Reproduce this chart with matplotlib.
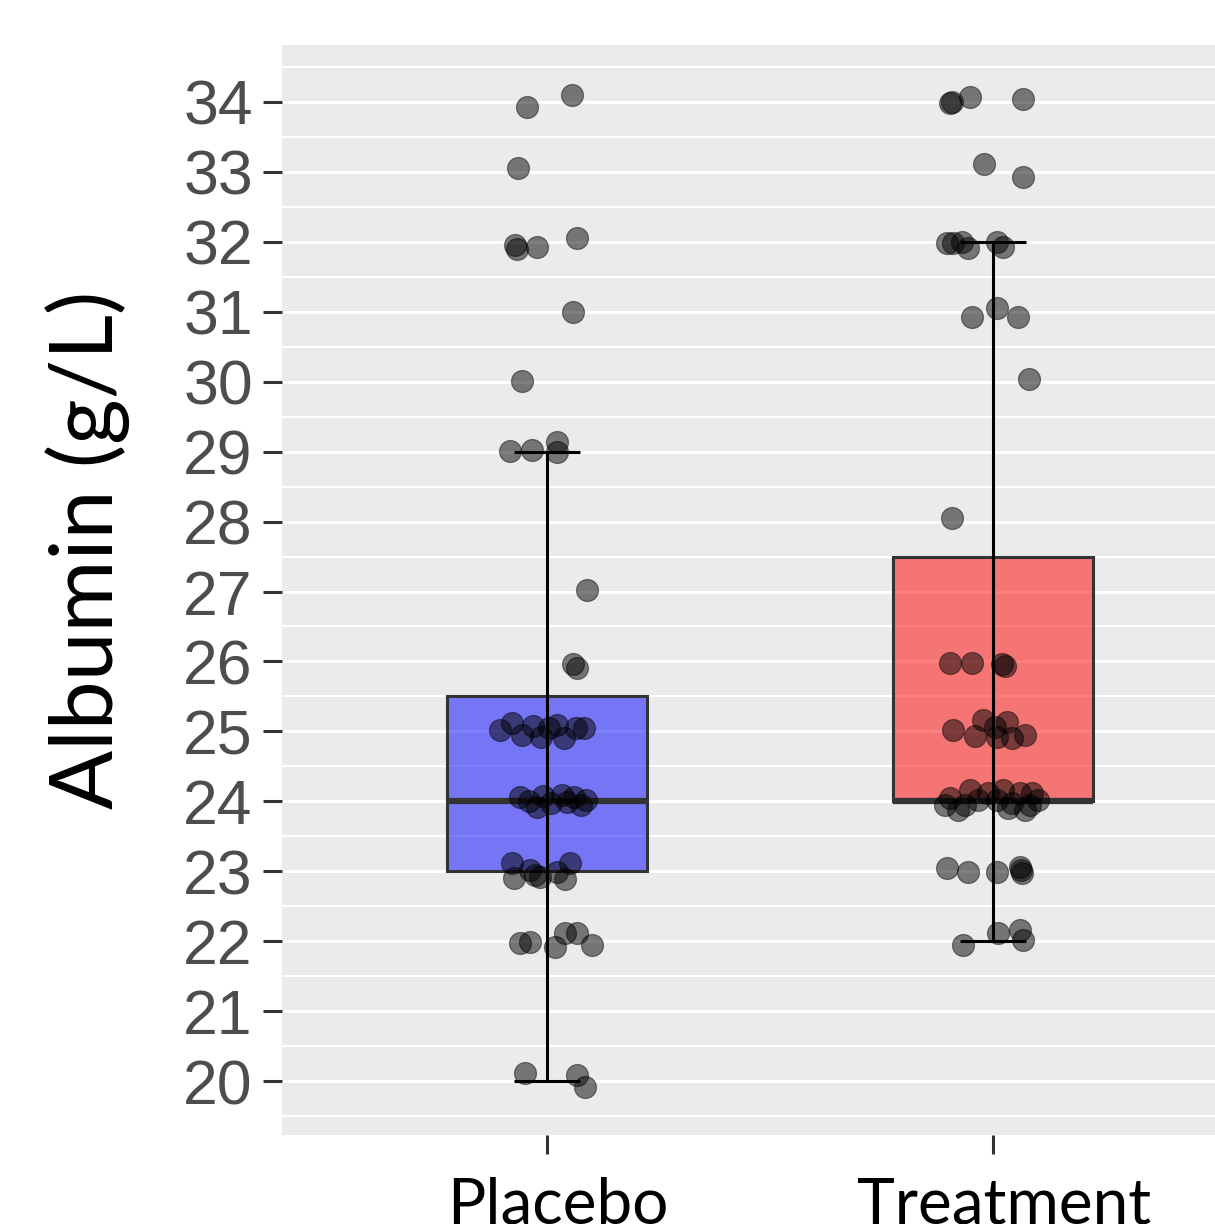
#!/usr/bin/env python3

import matplotlib
matplotlib.use("Agg")
import matplotlib.pyplot as plt
from matplotlib.ticker import MultipleLocator
from matplotlib.transforms import ScaledTranslation

# -----------------------------------------------------------------------------
# Albumin by group: boxplot + jittered points (ggplot-style)
# -----------------------------------------------------------------------------

GROUPS = ["Placebo", "Treatment"]
BOX_COLORS = ["blue", "red"]

# box statistics: lower whisker, Q1, median, Q3, upper whisker
WHISLO = [20, 22]
Q1 = [23, 24]
MEDIAN = [24, 24]
Q3 = [25.5, 27.5]
WHISHI = [29, 32]

# jittered points (x offset from group centre, y value)
PLACEBO_DX = [
    -0.045, 0.056, -0.065, -0.072, -0.067, -0.022, 0.067, 0.058, -0.056,
    -0.083, -0.034, 0.022, 0.022, 0.090, 0.058, 0.067,
    -0.105, -0.078, -0.056, -0.031, -0.013, 0.004, 0.022, 0.038, 0.065, 0.083,
    -0.061, -0.040, -0.022, -0.009, 0.009, 0.034, 0.045, 0.061, 0.076, 0.087,
    -0.078, -0.074, -0.038, -0.027, -0.016, 0.022, 0.040, 0.052,
    -0.061, -0.038, 0.018, 0.040, 0.067, 0.101,
    -0.049, 0.067, 0.085,
]
PLACEBO_Y = [
    33.93, 34.10, 33.06, 31.96, 31.90, 31.93, 32.06, 31.00, 30.01,
    29.01, 29.02, 29.14, 28.99, 27.02, 25.96, 25.90,
    25.02, 25.12, 24.95, 25.08, 24.92, 25.05, 25.09, 24.91, 25.05, 25.05,
    24.06, 24.00, 23.92, 24.08, 23.98, 24.09, 23.99, 24.06, 23.95, 24.02,
    23.12, 22.90, 23.02, 22.95, 22.92, 22.99, 22.89, 23.12,
    21.97, 21.99, 21.92, 22.12, 22.12, 21.94,
    20.11, 20.09, 19.91,
]

TREATMENT_DX = [
    -0.092, -0.096, -0.052, 0.067, -0.020, 0.067,
    -0.103, -0.090, -0.070, -0.056, 0.009, 0.022,
    -0.047, 0.009, 0.056, 0.081, -0.092,
    -0.096, -0.047, 0.020, 0.027,
    -0.090, -0.040, -0.022, 0.004, 0.009, 0.031, 0.043, 0.072,
    -0.108, -0.096, -0.078, -0.063, -0.052, -0.034, -0.011, 0.009,
    0.022, 0.034, 0.043, 0.061, 0.072, 0.083, 0.087, 0.101,
    -0.103, -0.056, 0.009, 0.061, 0.063, 0.065,
    -0.067, 0.011, 0.061, 0.067,
]
TREATMENT_Y = [
    34.00, 33.99, 34.07, 34.04, 33.11, 32.93,
    31.98, 31.98, 32.00, 31.91, 32.00, 31.93,
    30.93, 31.05, 30.93, 30.04, 28.05,
    25.98, 25.98, 25.96, 25.93,
    25.02, 24.93, 25.16, 25.06, 24.92, 25.13, 24.91, 24.95,
    23.95, 24.05, 23.88, 23.95, 24.16, 24.02, 24.12, 24.02,
    24.16, 23.90, 23.98, 24.12, 23.88, 23.95, 24.12, 24.02,
    23.05, 22.99, 22.99, 23.06, 23.02, 22.97,
    21.95, 22.12, 22.16, 22.02,
]

Y_TICKS = list(range(20, 35))

W, H = 1215, 1224
DPI = 100


def main():
    fig = plt.figure(figsize=(W / DPI, H / DPI), dpi=DPI, facecolor="white")
    ax = fig.add_axes([282 / W, 1 - 1135 / H, 1 - 282 / W, (1135 - 45) / H])
    ax.set_facecolor("#ebebeb")
    for s in ax.spines.values():
        s.set_visible(False)

    positions = [1, 2]

    # grid
    ax.yaxis.set_major_locator(MultipleLocator(1))
    ax.yaxis.set_minor_locator(MultipleLocator(0.5))
    ax.grid(axis="y", which="major", color="white", linewidth=2.2, zorder=0)
    ax.grid(axis="y", which="minor", color="white", linewidth=1.5, zorder=0)
    ax.set_axisbelow(True)

    # boxes
    stats = []
    for i, g in enumerate(GROUPS):
        stats.append({
            "label": g, "whislo": WHISLO[i], "q1": Q1[i], "med": MEDIAN[i],
            "q3": Q3[i], "whishi": WHISHI[i], "fliers": [],
        })
    bp = ax.bxp(stats, positions=positions, widths=0.45, patch_artist=True,
                showcaps=False, showfliers=False,
                whiskerprops=dict(linestyle="none"),
                boxprops=dict(edgecolor="#333333", linewidth=2.2),
                medianprops=dict(color="#333333", linewidth=4.5,
                                 solid_capstyle="butt"),
                manage_ticks=False, zorder=2)
    for patch, c in zip(bp["boxes"], BOX_COLORS):
        patch.set_facecolor(matplotlib.colors.to_rgba(c, 0.5))

    # error-bar style whiskers drawn over the box
    ax.vlines(positions, WHISLO, WHISHI, color="black", linewidth=2.2, zorder=3)
    for lo_hi in (WHISLO, WHISHI):
        ax.hlines(lo_hi, [p - 0.075 for p in positions],
                  [p + 0.075 for p in positions],
                  color="black", linewidth=2.2, zorder=3)

    # jittered points
    for p, dx, ys in ((1, PLACEBO_DX, PLACEBO_Y), (2, TREATMENT_DX, TREATMENT_Y)):
        ax.scatter([p + d for d in dx], ys, s=250,
                   facecolor=(0, 0, 0, 0.5), edgecolor=(0, 0, 0, 0.45),
                   linewidth=0.9, zorder=4)

    x0 = 1 - (547 - 282) / 446
    ax.set_xlim(x0, x0 + (W - 282) / 446)
    ax.set_ylim(19.228, 34.815)

    ax.set_yticks(Y_TICKS)
    ax.set_yticklabels([str(t) for t in Y_TICKS], fontsize=45,
                       color="#4d4d4d", family="Liberation Sans")
    ax.set_xticks(positions)
    ax.set_xticklabels(GROUPS, fontsize=46, color="black", family="Lato")
    ax.tick_params(axis="y", which="major", length=14, width=2.2,
                   color="#333333", pad=7)
    ax.tick_params(axis="x", which="major", length=14, width=2.2,
                   color="#333333", pad=16)
    ax.tick_params(which="minor", length=0)

    # labels sit a little right of their ticks in the original
    shift = ScaledTranslation(11 / DPI, 0, fig.dpi_scale_trans)
    for lab in ax.get_xticklabels():
        lab.set_transform(lab.get_transform() + shift)

    fig.text(88 / W, 1 - 550 / H, "Albumin (g/L)", rotation=90,
             ha="center", va="center", fontsize=63, family="Lato",
             color="black")

    fig.savefig("out.png", dpi=DPI, facecolor="white")
    plt.close(fig)


if __name__ == "__main__":
    main()
